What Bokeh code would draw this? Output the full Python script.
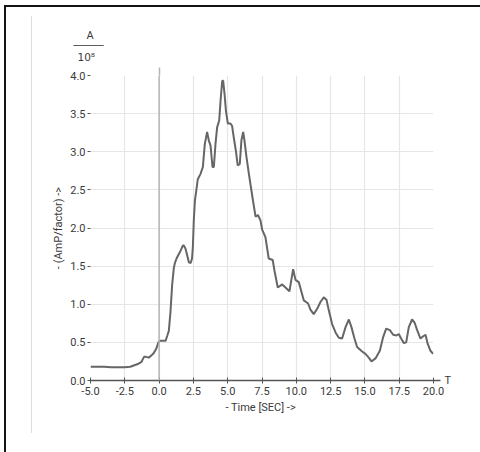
from bokeh.plotting import figure
from bokeh.models import (Range1d, FixedTicker, NumeralTickFormatter, Span, Title,
                          LinearAxis, InlineStyleSheet)
from bokeh.embed import file_html
from bokeh.resources import INLINE

time_sec = [-5.0, -4.5, -4.0, -3.5, -3.0, -2.5, -2.1, -1.8, -1.5, -1.3, -1.1, -0.95,
            -0.75, -0.55, -0.39, -0.2, -0.05, 0.05, 0.3, 0.47, 0.6, 0.71, 0.78, 0.83,
            0.95, 1.07, 1.15, 1.27, 1.44, 1.56, 1.73, 1.8, 1.92, 2.05, 2.17, 2.3, 2.4,
            2.46, 2.53, 2.61, 2.71, 2.82, 3.02, 3.19, 3.33, 3.5, 3.62, 3.75, 3.89, 3.99,
            4.11, 4.23, 4.38, 4.48, 4.6, 4.67, 4.77, 4.87, 5.01, 5.2, 5.32, 5.44, 5.59,
            5.73, 5.88, 6.0, 6.13, 6.22, 6.37, 6.56, 6.79, 7.03, 7.2, 7.39, 7.51, 7.75,
            7.99, 8.28, 8.41, 8.65, 8.97, 9.21, 9.5, 9.77, 9.94, 10.18, 10.55, 10.86,
            11.03, 11.27, 11.52, 11.76, 12.0, 12.2, 12.37, 12.61, 12.86, 13.1, 13.34,
            13.59, 13.83, 14.02, 14.24, 14.43, 14.8, 15.04, 15.28, 15.48, 15.77, 16.09,
            16.33, 16.55, 16.82, 17.06, 17.3, 17.47, 17.64, 17.84, 18.01, 18.2, 18.44,
            18.62, 18.81, 19.05, 19.25, 19.42, 19.58, 19.78, 19.97]
amp = [0.18, 0.18, 0.18, 0.175, 0.175, 0.175, 0.18, 0.20, 0.22, 0.24, 0.31, 0.31,
       0.30, 0.33, 0.36, 0.42, 0.50, 0.52, 0.52, 0.52, 0.59, 0.65, 0.80, 0.90,
       1.25, 1.47, 1.54, 1.60, 1.66, 1.70, 1.77, 1.77, 1.73, 1.64, 1.55, 1.54, 1.60,
       1.75, 2.10, 2.36, 2.49, 2.64, 2.71, 2.80, 3.10, 3.26, 3.15, 3.08, 2.80, 2.80,
       3.10, 3.32, 3.41, 3.67, 3.93, 3.93, 3.76, 3.54, 3.37, 3.37, 3.34, 3.19, 3.02,
       2.82, 2.84, 3.15, 3.26, 3.15, 2.93, 2.69, 2.42, 2.15, 2.17, 2.10, 1.98, 1.88,
       1.60, 1.58, 1.44, 1.22, 1.26, 1.22, 1.17, 1.46, 1.32, 1.29, 1.05, 1.01,
       0.93, 0.87, 0.94, 1.03, 1.09, 1.06, 0.92, 0.74, 0.63, 0.56, 0.55,
       0.70, 0.80, 0.70, 0.55, 0.44, 0.38, 0.35, 0.30, 0.25, 0.29, 0.39,
       0.57, 0.68, 0.66, 0.60, 0.59, 0.61, 0.55, 0.49, 0.50, 0.70, 0.80,
       0.76, 0.66, 0.55, 0.58, 0.60, 0.48, 0.39, 0.35]
x_ticks = [-5.0, -2.5, 0.0, 2.5, 5.0, 7.5, 10.0, 12.5, 15.0, 17.5, 20.0]
y_ticks = [0.0, 0.5, 1.0, 1.5, 2.0, 2.5, 3.0, 3.5, 4.0]
x_label = "- Time [SEC]  ->"
y_label = "- (AmP/factor) ->"
axis_end_label = "T"
unit_top = "A"
unit_bottom = "10\u2078"

FONT = "Roboto"
TXT = "#3a3a3a"
AX = "#555555"

p = figure(width=480, height=452, x_range=Range1d(-5, 20), y_range=Range1d(0, 4),
           output_backend="svg", toolbar_location=None,
           min_border_left=90, min_border_right=47, min_border_top=75, min_border_bottom=72)
p.outline_line_color = None
p.background_fill_color = "white"
p.border_fill_color = "white"

for g in (p.xgrid, p.ygrid):
    g.grid_line_color = "#e6e6e6"
    g.grid_line_width = 1.2
p.xgrid.ticker = FixedTicker(ticks=x_ticks)
p.ygrid.ticker = FixedTicker(ticks=y_ticks)

# bottom x axis
xa = p.below[0]
xa.ticker = FixedTicker(ticks=x_ticks)
xa.formatter = NumeralTickFormatter(format="0.0")
xa.axis_line_color = AX
xa.axis_line_width = 1.5
xa.major_tick_line_color = AX
xa.major_tick_in = 3
xa.major_tick_out = 3
xa.minor_tick_line_color = None
xa.major_label_text_font = FONT
xa.major_label_text_font_size = "11px"
xa.major_label_text_color = TXT
xa.major_label_standoff = 3
xa.axis_label = x_label
xa.axis_label_text_font = FONT
xa.axis_label_text_font_size = "11px"
xa.axis_label_text_font_style = "normal"
xa.axis_label_text_color = TXT
xa.axis_label_standoff = 3

# left y axis
ya = p.left[0]
ya.ticker = FixedTicker(ticks=y_ticks)
ya.formatter = NumeralTickFormatter(format="0.0")
ya.axis_line_color = None
ya.major_tick_line_color = AX
ya.major_tick_in = 0
ya.major_tick_out = 3
ya.minor_tick_line_color = None
ya.major_label_text_font = FONT
ya.major_label_text_font_size = "11px"
ya.major_label_text_color = TXT
ya.major_label_standoff = 2
ya.axis_label = y_label
ya.axis_label_text_font = FONT
ya.axis_label_text_font_size = "11px"
ya.axis_label_text_font_style = "normal"
ya.axis_label_text_color = TXT
ya.axis_label_standoff = 2

# right axis: continues the time axis a little and carries the "T"
ra = LinearAxis(ticker=FixedTicker(ticks=[0.0]), major_label_overrides={0: axis_end_label})
ra.axis_line_color = None
ra.major_tick_line_color = AX
ra.major_tick_line_width = 1.5
ra.major_tick_in = 0
ra.major_tick_out = 7
ra.minor_tick_line_color = None
ra.major_label_standoff = 4
ra.major_label_text_font = FONT
ra.major_label_text_font_size = "11px"
ra.major_label_text_color = TXT
ra.major_label_orientation = "horizontal"
p.add_layout(ra, "right")

# top axis: lets the zero-time marker poke above the frame
ZERO = "#b5b5b5"
ta = LinearAxis(ticker=FixedTicker(ticks=[0.0]), major_label_overrides={0: ""})
ta.axis_line_color = None
ta.major_tick_line_color = ZERO
ta.major_tick_line_width = 1.5
ta.major_tick_in = 0
ta.major_tick_out = 8
ta.minor_tick_line_color = None
ta.major_label_standoff = 0
ta.major_label_text_font_size = "1px"
p.add_layout(ta, "above")

# unit fraction A / 10^8 above the y axis
p.add_layout(Title(text=unit_bottom, align="left", offset=-13, standoff=10,
                   text_font="DejaVu Sans", text_font_size="10.5px", text_color=TXT,
                   text_font_style="normal"), "above")
p.add_layout(Title(text="\u2500" * 5, align="left", offset=-17, standoff=-14.4,
                   text_font="DejaVu Sans", text_font_size="10px", text_color="#4a4a4a",
                   text_font_style="normal"), "above")
p.add_layout(Title(text=unit_top, align="left", offset=-4, standoff=2.8,
                   text_font=FONT, text_font_size="11px", text_color=TXT,
                   text_font_style="normal"), "above")

# zero-time marker inside the frame
p.add_layout(Span(location=0, dimension="height", line_color=ZERO, line_width=1.5))

# the signal
p.line(time_sec, amp, line_color="#666666", line_width=2.0)

# edges of the scanned page
p.stylesheets = [InlineStyleSheet(css="""
:host::before { content: ""; position: absolute; left: 4px; top: 4.5px; right: 0; bottom: 0;
  border-left: 2.5px solid #151515; border-top: 2.3px solid #151515;
  pointer-events: none; z-index: 5; }
:host::after { content: ""; position: absolute; left: 30.5px; top: 16px; width: 1.5px;
  height: 417px; background: #dedede; pointer-events: none; z-index: 5; }
""")]

open("out.html", "w").write(file_html(p, INLINE))
